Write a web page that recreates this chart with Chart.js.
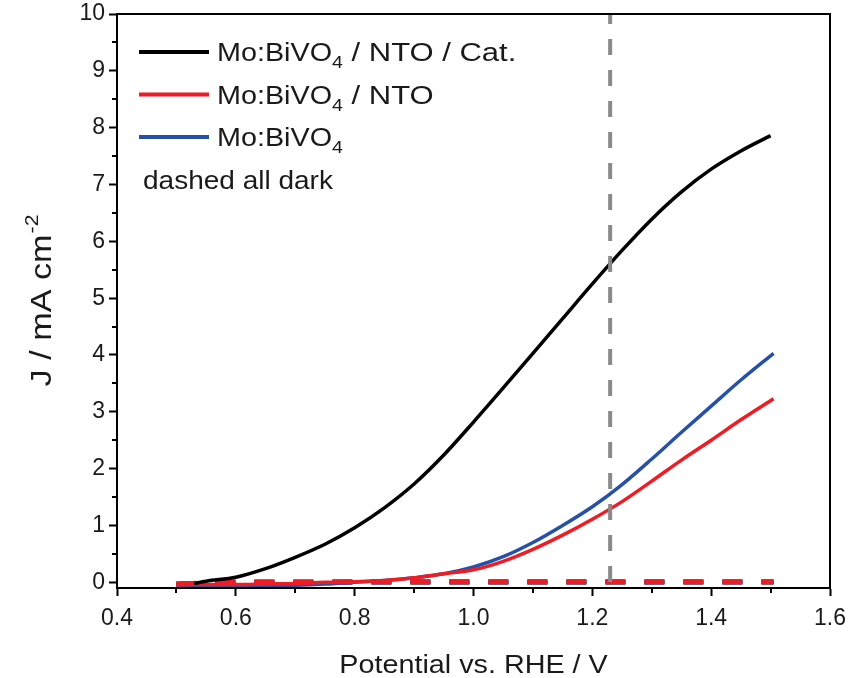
<!DOCTYPE html>
<html>
<head>
<meta charset="utf-8">
<script src="https://cdn.jsdelivr.net/npm/chart.js@4.4.0/dist/chart.umd.min.js"></script>
<style>
  body { margin: 0; background: #fff; }
  #chart-container { width: 848px; height: 678px; }
</style>
</head>
<body>
<div id="chart-container"><canvas id="myChart" width="848" height="678"></canvas></div>
<script>

// light curves
const potCat = [0.53, 0.55, 0.60, 0.65, 0.70, 0.75, 0.80, 0.85, 0.90, 0.95, 1.00, 1.05, 1.10, 1.15, 1.20, 1.25, 1.30, 1.35, 1.40, 1.45, 1.50];
const jCat   = [-0.02, 0.02, 0.09, 0.24, 0.44, 0.67, 0.96, 1.31, 1.73, 2.24, 2.82, 3.42, 4.03, 4.64, 5.25, 5.84, 6.39, 6.87, 7.27, 7.59, 7.86];

const potNto = [0.50, 0.55, 0.60, 0.65, 0.70, 0.75, 0.80, 0.85, 0.90, 0.95, 1.00, 1.05, 1.10, 1.15, 1.20, 1.25, 1.30, 1.35, 1.40, 1.45, 1.505];
const jNto   = [-0.04, -0.04, -0.04, -0.03, -0.02, 0.00, 0.01, 0.03, 0.08, 0.15, 0.22, 0.37, 0.58, 0.83, 1.11, 1.42, 1.78, 2.15, 2.50, 2.86, 3.23];

const potBare = [0.50, 0.55, 0.60, 0.65, 0.70, 0.75, 0.80, 0.85, 0.90, 0.95, 1.00, 1.05, 1.10, 1.15, 1.20, 1.25, 1.30, 1.35, 1.40, 1.45, 1.505];
const jBare   = [-0.05, -0.05, -0.06, -0.06, -0.05, -0.03, 0.00, 0.03, 0.08, 0.15, 0.27, 0.45, 0.70, 1.00, 1.33, 1.72, 2.17, 2.64, 3.10, 3.56, 4.03];

// dark curves (dashed)
const potDark     = [0.50, 0.55, 0.60, 0.70, 0.80, 0.90, 1.00, 1.10, 1.20, 1.30, 1.40, 1.505];
const jDarkCat    = [-0.03, -0.01, 0.00, 0.00, 0.00, 0.00, 0.00, 0.00, 0.00, 0.00, 0.00, 0.00];
const jDarkBare   = [-0.03, -0.02, 0.00, 0.00, 0.01, 0.01, 0.01, 0.01, 0.01, 0.01, 0.01, 0.01];
const jDarkNto    = [-0.03, -0.01, 0.01, 0.01, 0.01, 0.01, 0.01, 0.01, 0.01, 0.01, 0.01, 0.01];

const markerPot = 1.23;

const xTicks = [0.4, 0.6, 0.8, 1.0, 1.2, 1.4, 1.6];
const xMinorTicks = [0.5, 0.7, 0.9, 1.1, 1.3, 1.5];
const yTicks = [0, 1, 2, 3, 4, 5, 6, 7, 8, 9, 10];
const yMinorTicks = [0.5, 1.5, 2.5, 3.5, 4.5, 5.5, 6.5, 7.5, 8.5, 9.5];

const legendLabels = [
  ['Mo:BiVO', '4', ' / NTO / Cat.'],
  ['Mo:BiVO', '4', ' / NTO'],
  ['Mo:BiVO', '4', '']
];
const legendColors = ['#000000', '#ee1d25', '#2651a6'];
const legendNote = 'dashed all dark';

const xTitle = 'Potential vs. RHE / V';
const yTitle = ['J / mA cm', '-2'];

const FONT = '"Liberation Sans", Arial, sans-serif';
const STRETCH = 1.15;

function generateDataPair(x, y) {
  const data = [];
  for (var i = 0; i < x.length; i++) {
    data.push({ x: x[i], y: y[i] });
  }
  return data;
}

function stretchedText(ctx, text, x, y, s) {
  s = s || STRETCH;
  ctx.save();
  ctx.translate(x, y);
  ctx.scale(s, 1);
  ctx.fillText(text, 0, 0);
  const w = ctx.measureText(text).width * s;
  ctx.restore();
  return w;
}

const extras = {
  id: 'extras',
  afterDraw(chart) {
    const ctx = chart.ctx;
    const a = chart.chartArea;
    const xs = chart.scales.x;
    const ys = chart.scales.y;
    ctx.save();

    // box
    ctx.strokeStyle = '#000';
    ctx.lineWidth = 2;
    ctx.strokeRect(a.left, a.top, a.right - a.left, a.bottom - a.top);

    // minor ticks
    ctx.beginPath();
    xMinorTicks.forEach(v => {
      const px = Math.round(xs.getPixelForValue(v));
      ctx.moveTo(px, a.bottom);
      ctx.lineTo(px, a.bottom + 5);
    });
    yMinorTicks.forEach(v => {
      const py = Math.round(ys.getPixelForValue(v));
      ctx.moveTo(a.left, py);
      ctx.lineTo(a.left - 5, py);
    });
    ctx.stroke();

    ctx.fillStyle = '#1a1a1a';
    ctx.textBaseline = 'alphabetic';

    // x title
    ctx.font = '25px ' + FONT;
    const xw = ctx.measureText(xTitle).width * STRETCH;
    stretchedText(ctx, xTitle, (a.left + a.right) / 2 - xw / 2, 673);

    // y title, rotated
    const ys2 = 1.18;
    ctx.save();
    ctx.translate(51, (a.top + a.bottom) / 2);
    ctx.rotate(-Math.PI / 2);
    ctx.font = '29px ' + FONT;
    const w1 = ctx.measureText(yTitle[0]).width * ys2;
    ctx.font = '18px ' + FONT;
    const w2 = ctx.measureText(yTitle[1]).width * ys2;
    const sx = -(w1 + w2) / 2;
    ctx.font = '29px ' + FONT;
    stretchedText(ctx, yTitle[0], sx, 0, ys2);
    ctx.font = '18px ' + FONT;
    stretchedText(ctx, yTitle[1], sx + w1 + 1, -13, ys2);
    ctx.restore();

    // legend
    const rowY = [52, 94.5, 137];
    legendLabels.forEach((lab, i) => {
      ctx.strokeStyle = legendColors[i];
      ctx.lineWidth = 4;
      ctx.beginPath();
      ctx.moveTo(139, rowY[i]);
      ctx.lineTo(209, rowY[i]);
      ctx.stroke();
      const base = rowY[i] + 9;
      let x = 217;
      ctx.font = '25px ' + FONT;
      x += stretchedText(ctx, lab[0], x, base);
      ctx.font = '17px ' + FONT;
      x += stretchedText(ctx, lab[1], x, base + 7);
      ctx.font = '25px ' + FONT;
      stretchedText(ctx, lab[2], x, base, 1.24);
    });
    ctx.font = '25px ' + FONT;
    stretchedText(ctx, legendNote, 143, 189, 1.12);

    ctx.restore();
  }
};

function lineSet(x, y, color, width, dash, order) {
  return {
    data: generateDataPair(x, y),
    borderColor: color,
    borderWidth: width,
    borderDash: dash,
    pointRadius: 0,
    fill: false,
    cubicInterpolationMode: 'monotone',
    order: order
  };
}

const ctxone = document.getElementById('myChart');

const myChart = new Chart(ctxone, {
  type: 'line',
  data: {
    datasets: [
      {
        data: [{ x: markerPot, y: 10 }, { x: markerPot, y: -0.1 }],
        borderColor: '#8a8a8a',
        borderWidth: 4,
        borderDash: [16, 15],
        borderDashOffset: 6,
        pointRadius: 0,
        order: 0
      },
      lineSet(potCat, jCat, '#000000', 3.5, [], 1),
      lineSet(potNto, jNto, '#ee1d25', 3.5, [], 2),
      lineSet(potDark, jDarkNto, '#ee1d25', 5, [20, 19], 3),
      lineSet(potBare, jBare, '#2651a6', 3.5, [], 4),
      lineSet(potDark, jDarkBare, '#2651a6', 5, [20, 19], 5),
      lineSet(potDark, jDarkCat, '#000000', 4.5, [20, 19], 6)
    ]
  },
  options: {
    responsive: false,
    animation: false,
    devicePixelRatio: 1,
    layout: { padding: { top: 14, right: 18, left: 0, bottom: 0 } },
    plugins: {
      legend: { display: false },
      tooltip: { enabled: false }
    },
    scales: {
      x: {
        type: 'linear',
        min: 0.4,
        max: 1.6,
        afterBuildTicks: scale => { scale.ticks = xTicks.map(v => ({ value: v })); },
        afterFit: scale => {
          scale.height = 90;
          scale.paddingLeft = 0;
          scale.paddingRight = 0;
        },
        ticks: {
          callback: v => v.toFixed(1),
          font: { family: FONT, size: 23 },
          color: '#1a1a1a',
          padding: 9,
          maxRotation: 0
        },
        grid: { drawOnChartArea: false, tickLength: 8, tickWidth: 2, tickColor: '#000' },
        border: { color: '#000', width: 2 }
      },
      y: {
        min: -0.1,
        max: 10,
        afterBuildTicks: scale => { scale.ticks = yTicks.map(v => ({ value: v })); },
        afterFit: scale => {
          scale.width = 117;
          scale.paddingTop = 0;
          scale.paddingBottom = 0;
        },
        ticks: {
          callback: v => String(v),
          font: { family: FONT, size: 23 },
          color: '#1a1a1a',
          padding: 4
        },
        grid: { drawOnChartArea: false, tickLength: 8, tickWidth: 2, tickColor: '#000' },
        border: { color: '#000', width: 2 }
      }
    }
  },
  plugins: [extras]
});

</script>
</body>
</html>
